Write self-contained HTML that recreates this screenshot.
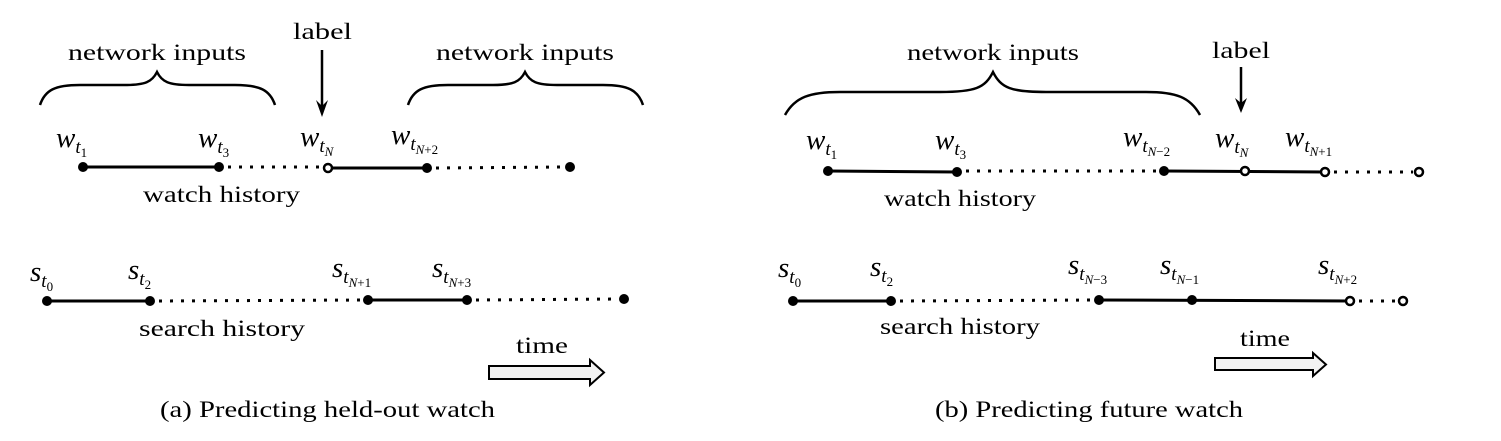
<!DOCTYPE html>
<html><head><meta charset="utf-8"><style>
html,body{margin:0;padding:0;background:#fff;}
svg{display:block;}
text{font-family:"Liberation Serif",serif;fill:#000;}
.m{font-style:italic;font-size:29px;}
.s{font-size:19px;}
.ss{font-size:13px;}
.t{font-size:23px;}
</style></head><body>
<svg width="1501" height="441" viewBox="0 0 1501 441" xmlns="http://www.w3.org/2000/svg">
<g stroke="#000" fill="none" stroke-width="2.5">
<path d="M40,105 C45,90 55,85 80,85 L125,85 C145,85 152,82 157,72 C162,82 169,85 189,85 L235,85 C260,85 270,90 275,105"/>
<path d="M408,105 C413,90 423,85 448,85 L493,85 C513,85 520,82 525,72 C530,82 537,85 557,85 L603,85 C628,85 638,90 643,105"/>
<path d="M785,115 C795,97 810,92 840,92 L940,92 C975,92 985,88 993,72 C1001,88 1011,92 1046,92 L1146,92 C1176,92 1190,97 1200,115"/>
</g>
<g stroke="#000" stroke-width="3">
<line x1="83" y1="167" x2="219" y2="167"/>
<line x1="328" y1="168" x2="427" y2="168"/>
<line x1="47" y1="301" x2="150" y2="301"/>
<line x1="368" y1="300" x2="467" y2="300"/>
<line x1="828" y1="171" x2="957" y2="172"/>
<line x1="1164" y1="171" x2="1325" y2="172"/>
<line x1="793" y1="301" x2="891" y2="301"/>
<line x1="1099" y1="300" x2="1350" y2="301"/>
</g>
<g stroke="#000" stroke-width="3" stroke-dasharray="3,8">
<line x1="228" y1="167" x2="322" y2="167"/>
<line x1="436" y1="168" x2="565" y2="167"/>
<line x1="159" y1="301" x2="362" y2="300"/>
<line x1="476" y1="300" x2="618" y2="299"/>
<line x1="966" y1="171" x2="1158" y2="171"/>
<line x1="1334" y1="172" x2="1413" y2="172"/>
<line x1="900" y1="301" x2="1093" y2="300"/>
<line x1="1359" y1="301" x2="1398" y2="301"/>
</g>
<g fill="#000">
<circle cx="83" cy="167" r="5"/><circle cx="219" cy="167" r="5"/><circle cx="427" cy="168" r="5"/><circle cx="570" cy="167" r="5"/>
<circle cx="47" cy="301" r="5"/><circle cx="150" cy="301" r="5"/><circle cx="368" cy="300" r="5"/><circle cx="467" cy="300" r="5"/><circle cx="624" cy="299" r="5"/>
<circle cx="828" cy="171" r="5"/><circle cx="957" cy="172" r="5"/><circle cx="1164" cy="171" r="5"/>
<circle cx="793" cy="301" r="5"/><circle cx="891" cy="301" r="5"/><circle cx="1099" cy="300" r="5"/><circle cx="1192" cy="300" r="5"/>
</g>
<g fill="#fff" stroke="#000" stroke-width="2.5">
<circle cx="328" cy="168" r="4"/>
<circle cx="1245" cy="171" r="4"/><circle cx="1325" cy="172" r="4"/><circle cx="1419" cy="172" r="4"/>
<circle cx="1350" cy="301" r="4"/><circle cx="1403" cy="301" r="4"/>
</g>
<g stroke="#000" stroke-width="2.5">
<line x1="322" y1="50" x2="322" y2="110"/>
<line x1="1241" y1="67" x2="1241" y2="107"/>
</g>
<path d="M316,100 L322,117 L328,100 L322,106 Z" fill="#000"/>
<path d="M1235,98 L1241,113 L1247,98 L1241,103 Z" fill="#000"/>
<path d="M489,366 L590,366 L590,360 L604,372.5 L590,385 L590,379 L489,379 Z" fill="#f2f2f2" stroke="#000" stroke-width="2"/>
<path d="M1215,358 L1313,358 L1313,353 L1326,364.5 L1313,376 L1313,370 L1215,370 Z" fill="#f2f2f2" stroke="#000" stroke-width="2"/>
<g class="t">
<text x="68" y="60" textLength="178" lengthAdjust="spacingAndGlyphs">network inputs</text>
<text x="436" y="60" textLength="178" lengthAdjust="spacingAndGlyphs">network inputs</text>
<text x="293" y="39" textLength="59" lengthAdjust="spacingAndGlyphs">label</text>
<text x="143" y="202" textLength="157" lengthAdjust="spacingAndGlyphs">watch history</text>
<text x="139" y="336" textLength="166" lengthAdjust="spacingAndGlyphs">search history</text>
<text x="516" y="353" textLength="52" lengthAdjust="spacingAndGlyphs">time</text>
<text x="160" y="417" textLength="335" lengthAdjust="spacingAndGlyphs">(a) Predicting held-out watch</text>
<text x="907" y="60" textLength="172" lengthAdjust="spacingAndGlyphs">network inputs</text>
<text x="1212" y="58" textLength="58" lengthAdjust="spacingAndGlyphs">label</text>
<text x="884" y="206" textLength="152" lengthAdjust="spacingAndGlyphs">watch history</text>
<text x="880" y="334" textLength="160" lengthAdjust="spacingAndGlyphs">search history</text>
<text x="1240" y="346" textLength="50" lengthAdjust="spacingAndGlyphs">time</text>
<text x="935" y="417" textLength="308" lengthAdjust="spacingAndGlyphs">(b) Predicting future watch</text>
</g>
<text class="m" x="56" y="147">w<tspan class="s" dy="6">t</tspan><tspan class="ss" dy="4" font-style="normal">1</tspan></text>
<text class="m" x="198" y="147">w<tspan class="s" dy="6">t</tspan><tspan class="ss" dy="4" font-style="normal">3</tspan></text>
<text class="m" x="300" y="146">w<tspan class="s" dy="6">t</tspan><tspan class="ss" dy="4">N</tspan></text>
<text class="m" x="391" y="144">w<tspan class="s" dy="6">t</tspan><tspan class="ss" dy="4">N</tspan><tspan class="ss" font-style="normal">+2</tspan></text>
<text class="m" x="30" y="281">s<tspan class="s" dy="6">t</tspan><tspan class="ss" dy="4" font-style="normal">0</tspan></text>
<text class="m" x="128" y="279">s<tspan class="s" dy="6">t</tspan><tspan class="ss" dy="4" font-style="normal">2</tspan></text>
<text class="m" x="332" y="277">s<tspan class="s" dy="6">t</tspan><tspan class="ss" dy="4">N</tspan><tspan class="ss" font-style="normal">+1</tspan></text>
<text class="m" x="432" y="277">s<tspan class="s" dy="6">t</tspan><tspan class="ss" dy="4">N</tspan><tspan class="ss" font-style="normal">+3</tspan></text>
<text class="m" x="806" y="149">w<tspan class="s" dy="6">t</tspan><tspan class="ss" dy="4" font-style="normal">1</tspan></text>
<text class="m" x="935" y="149">w<tspan class="s" dy="6">t</tspan><tspan class="ss" dy="4" font-style="normal">3</tspan></text>
<text class="m" x="1123" y="146">w<tspan class="s" dy="6">t</tspan><tspan class="ss" dy="4">N</tspan><tspan class="ss" font-style="normal">−2</tspan></text>
<text class="m" x="1215" y="147">w<tspan class="s" dy="6">t</tspan><tspan class="ss" dy="4">N</tspan></text>
<text class="m" x="1285" y="146">w<tspan class="s" dy="6">t</tspan><tspan class="ss" dy="4">N</tspan><tspan class="ss" font-style="normal">+1</tspan></text>
<text class="m" x="778" y="277">s<tspan class="s" dy="6">t</tspan><tspan class="ss" dy="4" font-style="normal">0</tspan></text>
<text class="m" x="870" y="276">s<tspan class="s" dy="6">t</tspan><tspan class="ss" dy="4" font-style="normal">2</tspan></text>
<text class="m" x="1068" y="274">s<tspan class="s" dy="6">t</tspan><tspan class="ss" dy="4">N</tspan><tspan class="ss" font-style="normal">−3</tspan></text>
<text class="m" x="1160" y="274">s<tspan class="s" dy="6">t</tspan><tspan class="ss" dy="4">N</tspan><tspan class="ss" font-style="normal">−1</tspan></text>
<text class="m" x="1318" y="274">s<tspan class="s" dy="6">t</tspan><tspan class="ss" dy="4">N</tspan><tspan class="ss" font-style="normal">+2</tspan></text>
</svg>
</body></html>
